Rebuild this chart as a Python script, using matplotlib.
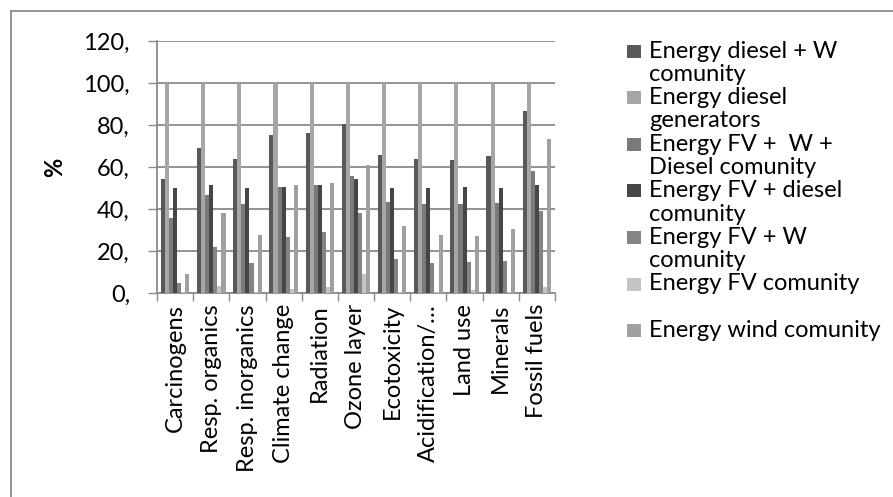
import matplotlib
matplotlib.use("Agg")
import matplotlib.pyplot as plt
from matplotlib.patches import Rectangle
from matplotlib.lines import Line2D
import numpy as np

categories = ["Carcinogens", "Resp. organics", "Resp. inorganics", "Climate change",
              "Radiation", "Ozone layer", "Ecotoxicity", "Acidification/\u2026",
              "Land use", "Minerals", "Fossil fuels"]

diesel_w = [54.4, 69.2, 63.7, 75.4, 76.2, 80.4, 65.7, 63.8, 63.5, 65.1, 86.6]
diesel_gen = [100, 100, 100, 100, 100, 100, 100, 100, 100, 100, 100]
fv_w_diesel = [35.7, 46.8, 42.2, 50.7, 51.3, 55.9, 43.3, 42.3, 42.5, 43.0, 58.0]
fv_diesel = [49.9, 51.5, 49.9, 50.7, 51.3, 54.4, 49.9, 50.2, 50.6, 49.9, 51.2]
fv_w = [4.6, 22.1, 14.2, 26.9, 28.9, 37.9, 16.0, 14.5, 14.8, 15.2, 39.2]
fv = [0.5, 3.3, 0.3, 1.7, 2.8, 8.9, 0.3, 0.5, 1.3, 0.3, 2.8]
wind = [8.9, 38.2, 27.6, 51.2, 52.5, 61.0, 31.8, 27.5, 27.2, 30.3, 73.3]

series_labels = ["Energy diesel + W\ncomunity", "Energy diesel\ngenerators",
                 "Energy FV +  W +\nDiesel comunity", "Energy FV + diesel\ncomunity",
                 "Energy FV + W\ncomunity", "Energy FV comunity", "Energy wind comunity"]
series_colors = ["#595959", "#a6a6a6", "#7a7a7a", "#464646", "#848484", "#c4c4c4", "#a0a0a0"]
yticks = [0, 20, 40, 60, 80, 100, 120]

series = [diesel_w, diesel_gen, fv_w_diesel, fv_diesel, fv_w, fv, wind]

FONT = ["Lato", "DejaVu Sans"]
plt.rcParams['font.family'] = FONT
FS = 17

W, H = 893, 497
fig = plt.figure(figsize=(W / 100, H / 100), dpi=100)
ax = fig.add_axes([157 / W, 1 - 293 / H, (555 - 157) / W, (293 - 41) / H])

x = np.arange(len(categories))
bw = 0.113
for i, (vals, col) in enumerate(zip(series, series_colors)):
    ax.bar(x + (i - 3) * bw, vals, width=bw, color=col, zorder=3, linewidth=0)

ax.set_xlim(-0.5, len(categories) - 0.5)
ax.set_ylim(0, 120)
ax.set_yticks(yticks)
ax.set_yticklabels([f"{v}," for v in yticks], fontsize=FS)
ax.yaxis.grid(True, color="#8a8a8a", linewidth=1.3, zorder=0)
ax.set_axisbelow(True)
ax.tick_params(axis="y", length=6.5, width=1, color="#8a8a8a", pad=13)

ax.set_xticks(x)
ax.set_xticklabels(categories, rotation=90, fontsize=FS, va="top", ha="center")
ax.set_xticks(np.arange(len(categories) + 1) - 0.5, minor=True)
ax.tick_params(axis="x", which="major", length=0, pad=8)
ax.tick_params(axis="x", which="minor", length=6, width=1, color="#8a8a8a")

for s in ["top", "right"]:
    ax.spines[s].set_visible(False)
for s in ["left", "bottom"]:
    ax.spines[s].set_color("#8a8a8a")
    ax.spines[s].set_linewidth(1.3)

ax.set_ylabel("%", fontsize=FS, fontweight="bold", labelpad=12)

# legend (drawn manually to mimic layout)
line_h = 23.3
y0 = 51
for i, (lab, col) in enumerate(zip(series_labels, series_colors)):
    yc = y0 + 2 * i * line_h
    fig.patches.append(Rectangle((627 / W, 1 - (yc + 6.5) / H), 14 / W, 13 / H,
                                 transform=fig.transFigure, facecolor=col,
                                 edgecolor="none"))
    for j, part in enumerate(lab.split("\n")):
        fig.text(649 / W, 1 - (yc + j * line_h) / H, part, fontsize=FS,
                 va="center", ha="left")

# outer frame (partially visible)
fig.add_artist(Line2D([10.5 / W, 10.5 / W], [0, 1 - 10.5 / H], color="#8a8a8a",
                      linewidth=1.3, transform=fig.transFigure))
fig.add_artist(Line2D([10.5 / W, 1], [1 - 10.5 / H, 1 - 10.5 / H], color="#8a8a8a",
                      linewidth=1.3, transform=fig.transFigure))

fig.savefig("out.png", dpi=100)
